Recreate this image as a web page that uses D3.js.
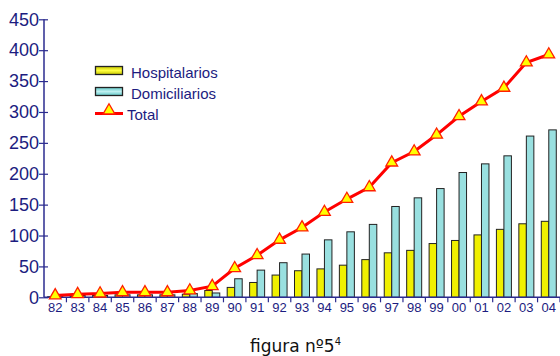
<!DOCTYPE html>
<html><head><meta charset="utf-8">
<script src="https://cdn.jsdelivr.net/npm/d3@7"></script>
<style>body{margin:0;background:#fff}svg{display:block}</style>
</head><body>
<svg id="c" width="560" height="356"></svg>
<script>
const years = ["82","83","84","85","86","87","88","89","90","91","92","93","94","95","96","97","98","99","00","01","02","03","04"];
const hospitalarios = [1,2,3,4,4,4,5,11,16,24,36,43,46,52,61,72,76,87,92,101,110,119,123];
const domiciliarios = [2,3,3,4,4,4,6,7,30,44,56,70,93,106,118,147,161,176,202,216,229,261,271];
const total = [3,5,6,8,8,8,11,18,47,68,93,113,138,159,178,218,236,263,293,317,339,380,393];
const yTicks = [0,50,100,150,200,250,300,350,400,450];
const seriesNames = ["Hospitalarios","Domiciliarios","Total"];

const svg = d3.select("#c");
const axisColor = "#2b2b8f", textColor = "#1c1c80";
const x0 = 44, x1 = 560, yTop = 19.3, yBot = 297.3;
const x = d3.scaleBand().domain(years).range([x0, x1]).paddingInner(0).paddingOuter(0);
const y = d3.scaleLinear().domain([0,450]).range([yBot, yTop]);

const defs = svg.append("defs");
function grad(id, edge, mid){
  const g = defs.append("linearGradient").attr("id", id).attr("x1","0").attr("x2","0").attr("y1","0").attr("y2","1");
  g.append("stop").attr("offset","0%").attr("stop-color",edge);
  g.append("stop").attr("offset","50%").attr("stop-color",mid);
  g.append("stop").attr("offset","100%").attr("stop-color",edge);
}
grad("gy","#c8c800","#ffff40");
grad("gc","#60c8c8","#c0f0f0");

const bw = 7.5;
const g = svg.append("g");
g.selectAll("rect.h").data(years).join("rect").attr("class","h")
  .attr("x", d => x(d) + x.bandwidth()/2 - bw)
  .attr("y", (d,i) => y(hospitalarios[i]))
  .attr("width", bw).attr("height", (d,i) => yBot - y(hospitalarios[i]))
  .attr("fill","#f0f000").attr("stroke","#222").attr("stroke-width",1);
g.selectAll("rect.d").data(years).join("rect").attr("class","d")
  .attr("x", d => x(d) + x.bandwidth()/2)
  .attr("y", (d,i) => y(domiciliarios[i]))
  .attr("width", bw).attr("height", (d,i) => yBot - y(domiciliarios[i]))
  .attr("fill","#99e0e0").attr("stroke","#222").attr("stroke-width",1);

// axes
const yAxis = d3.axisLeft(y).tickValues(yTicks).tickSize(0).tickPadding(4);
const ya = svg.append("g").attr("transform",`translate(${x0},0)`).call(yAxis);
ya.select(".domain").remove();
ya.selectAll("text").attr("fill",textColor).style("font-family","Liberation Sans, Arial, sans-serif").style("font-size","18px").attr("dx","-1");
ya.selectAll(".tick").append("line").attr("x1",-5).attr("x2",4).attr("stroke",axisColor).attr("stroke-width",1.2);
svg.append("line").attr("x1",x0).attr("x2",x0).attr("y1",yTop).attr("y2",yBot).attr("stroke",axisColor).attr("stroke-width",1.5);

const xAxis = d3.axisBottom(x).tickSize(0).tickPadding(5);
const xa = svg.append("g").attr("transform",`translate(0,${yBot})`).call(xAxis);
xa.select(".domain").remove();
xa.selectAll("text").attr("fill",textColor).style("font-family","Liberation Sans, Arial, sans-serif").style("font-size","13px");
svg.append("g").selectAll("line").data(years.slice(1).concat(["end"])).join("line")
  .attr("x1",(d,i)=> x0 + (i+1)*x.bandwidth()).attr("x2",(d,i)=> x0 + (i+1)*x.bandwidth())
  .attr("y1",yBot).attr("y2",yBot+5).attr("stroke",axisColor).attr("stroke-width",1.2);
svg.append("line").attr("x1",x0).attr("x2",x1).attr("y1",yBot).attr("y2",yBot).attr("stroke",axisColor).attr("stroke-width",1.5);

// total line
const line = d3.line().x((d,i)=> x(years[i]) + x.bandwidth()/2).y(d => y(d));
svg.append("path").datum(total).attr("d", line).attr("fill","none").attr("stroke","#ff0000").attr("stroke-width",3);
const tri = d3.symbol().type(d3.symbolTriangle).size(60);
svg.append("g").selectAll("path").data(total).join("path")
  .attr("d", tri)
  .attr("transform",(d,i)=>`translate(${x(years[i]) + x.bandwidth()/2},${y(d)})`)
  .attr("fill","#ffff00").attr("stroke","#ff2000").attr("stroke-width",1.3);

// legend
const lg = svg.append("g");
lg.append("rect").attr("x",95.5).attr("y",66.5).attr("width",27).attr("height",8).attr("fill","url(#gy)").attr("stroke","#222").attr("stroke-width",1.3);
lg.append("rect").attr("x",95.5).attr("y",87.5).attr("width",27).attr("height",8).attr("fill","url(#gc)").attr("stroke","#222").attr("stroke-width",1.3);
lg.append("line").attr("x1",95).attr("x2",123).attr("y1",113.5).attr("y2",113.5).attr("stroke","#ff0000").attr("stroke-width",3);
lg.append("path").attr("d",tri).attr("transform","translate(109,110.5)").attr("fill","#ffff00").attr("stroke","#ff2000").attr("stroke-width",1.3);
const lt = [[131,78,seriesNames[0]],[131,99,seriesNames[1]],[127,120,seriesNames[2]]];
lg.selectAll("text").data(lt).join("text").attr("x",d=>d[0]).attr("y",d=>d[1]).text(d=>d[2])
  .attr("fill",textColor).style("font-family","Liberation Sans, Arial, sans-serif").style("font-size","15px");

// caption
const cap = svg.append("text").attr("x",250).attr("y",352).attr("fill","#111")
  .style("font-family","DejaVu Sans, Verdana, sans-serif").style("font-size","17px");
cap.append("tspan").text("figura nº5");
cap.append("tspan").attr("dy",-7).style("font-size","10px").text("4");
</script>
</body></html>
